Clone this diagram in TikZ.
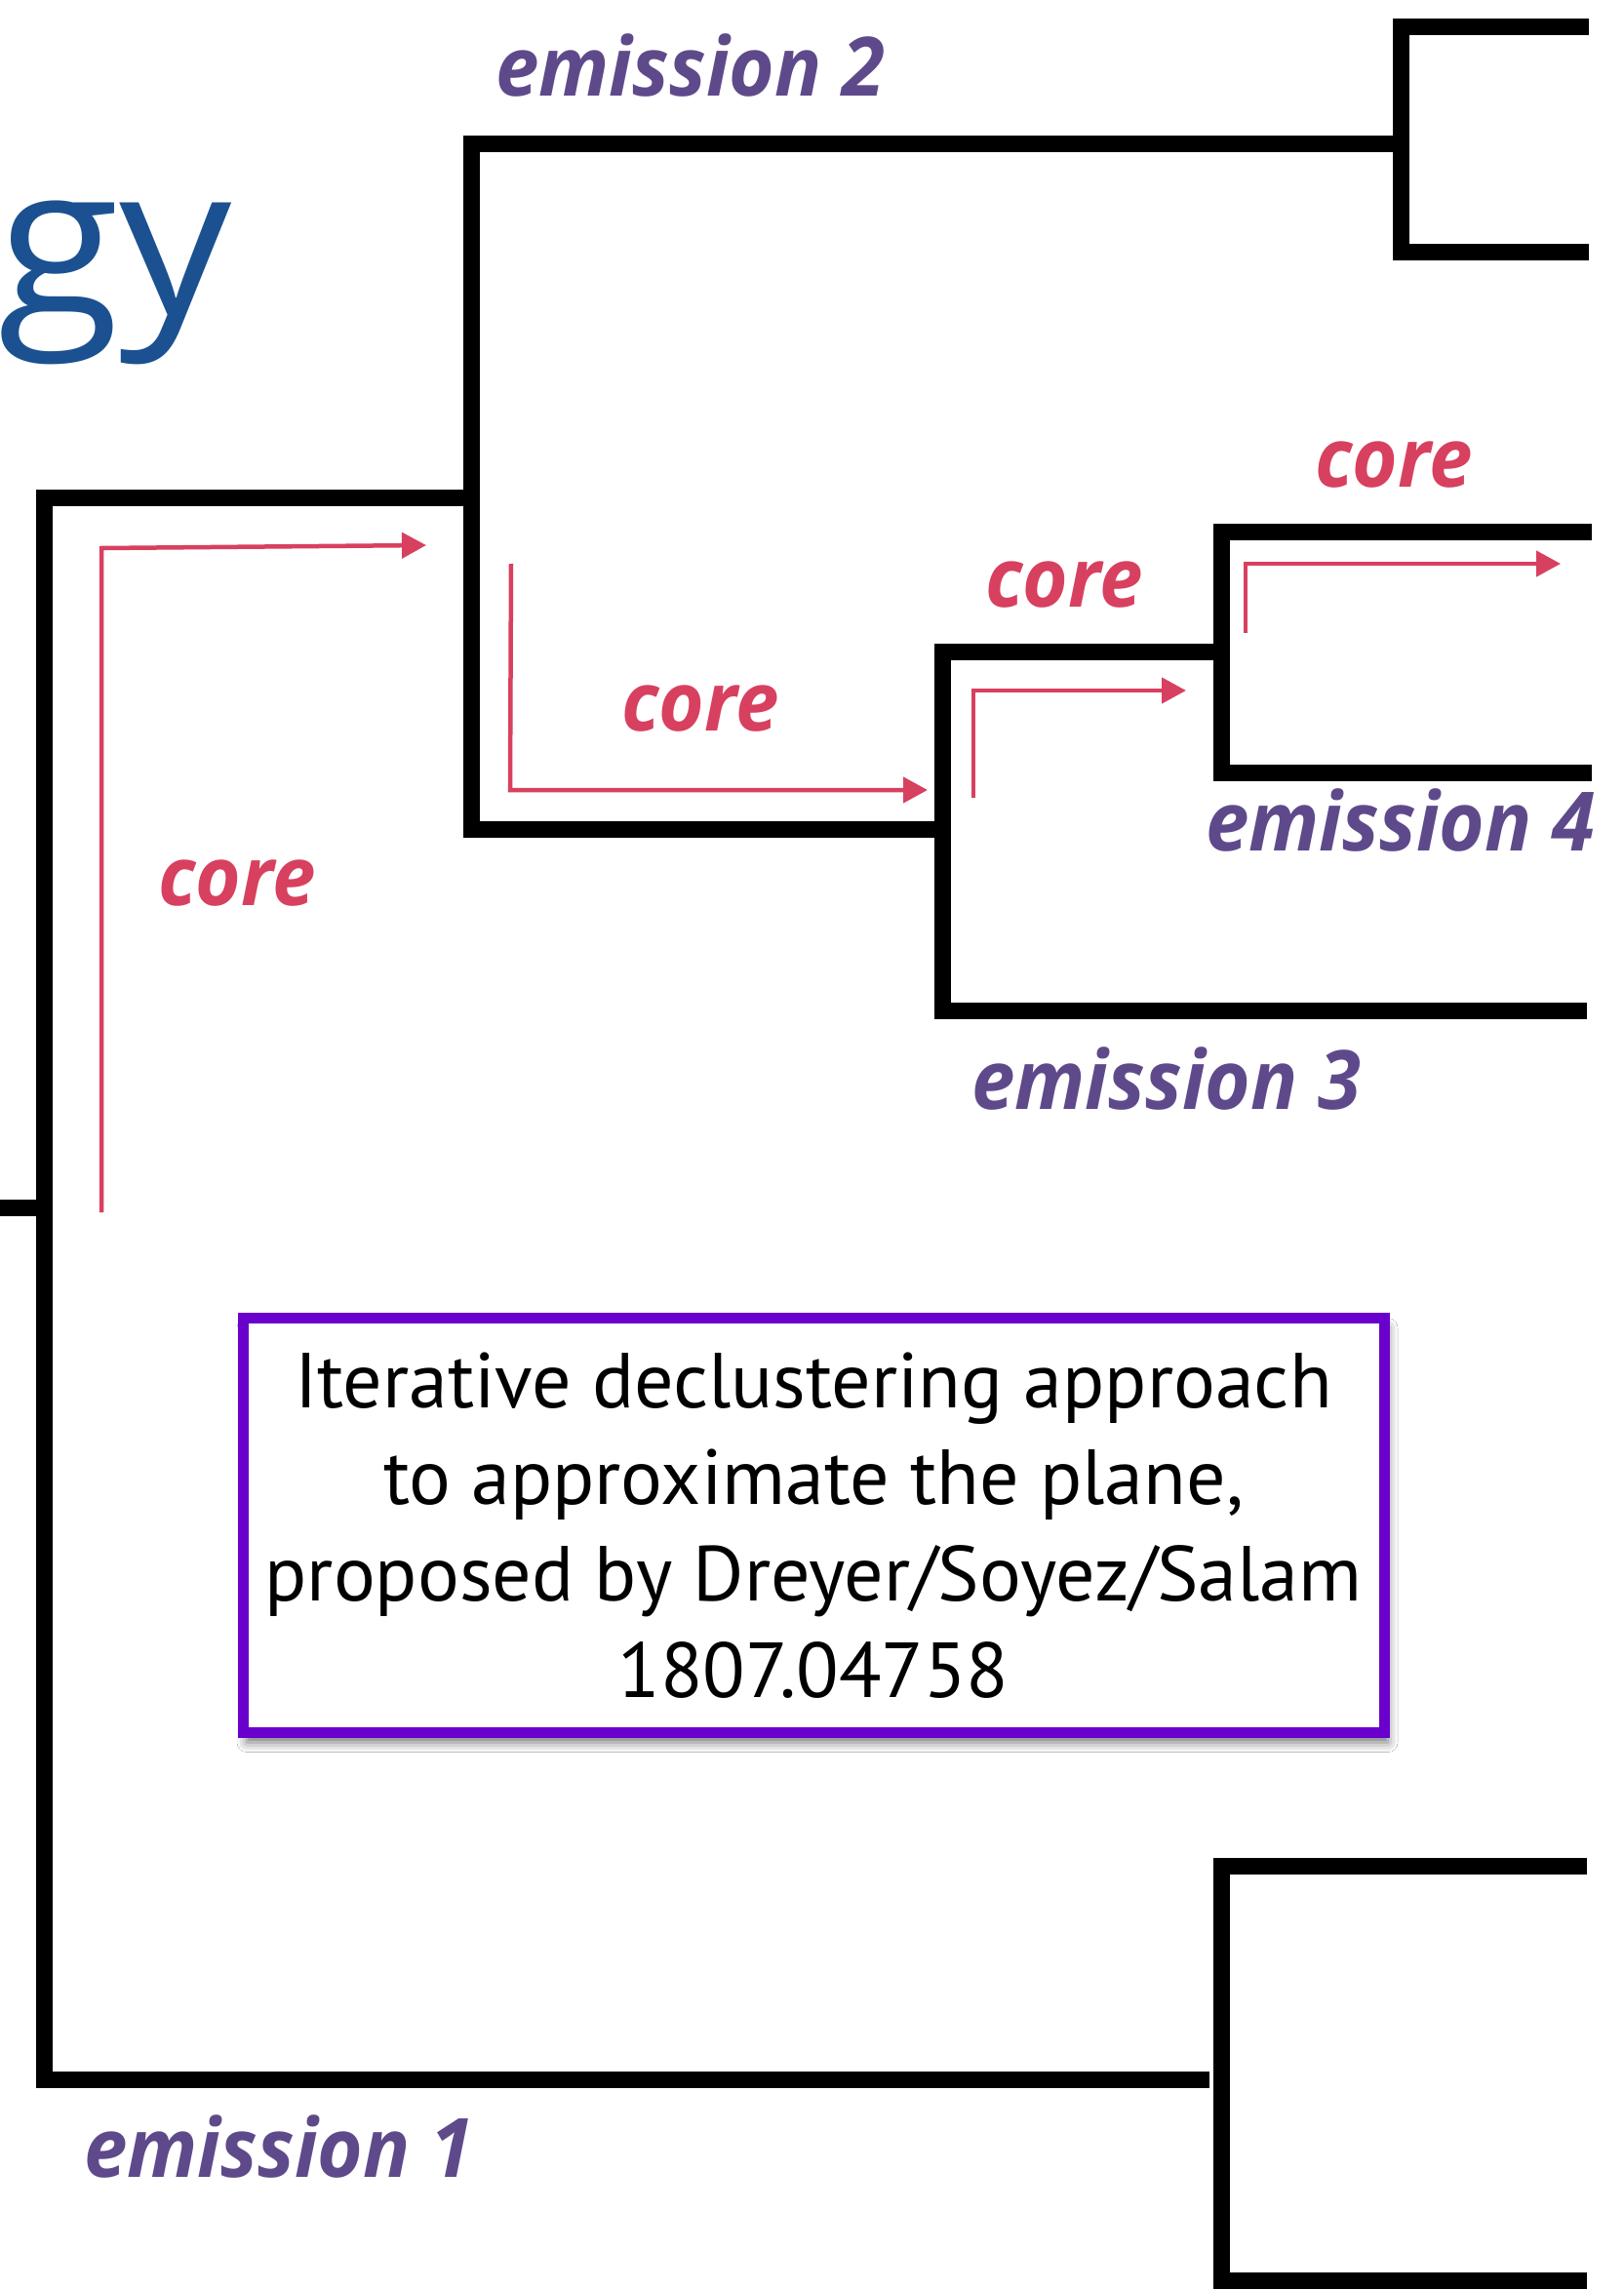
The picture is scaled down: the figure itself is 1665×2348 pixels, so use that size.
\documentclass[tikz,border=0pt]{standalone}
\usepackage{fontspec}
\newfontfamily\labfont{Open Sans}[FakeStretch=0.95]
\newfontfamily\titlefont{Open Sans}[FakeStretch=1.07]
\newfontfamily\boxfont{PT Sans}
\usetikzlibrary{arrows.meta,shadows.blur}
\definecolor{emcol}{HTML}{5E4A8B}
\definecolor{corecol}{HTML}{D8405F}
\definecolor{gycol}{HTML}{1B5190}
\definecolor{boxcol}{HTML}{6A00CC}
\begin{document}
\begin{tikzpicture}[x=1pt,y=-1pt,
  tree/.style={line width=17pt, line join=miter, line cap=butt, draw=black},
  flow/.style={line width=4.5pt, draw=corecol, line join=miter, -{Triangle[length=25pt,width=26pt]}},
  emlab/.style={anchor=base west, inner sep=0pt, text=emcol, font=\labfont\bfseries\itshape\fontsize{84}{100}\selectfont},
  corelab/.style={emlab, text=corecol},
]
\useasboundingbox[fill=white] (0,0) rectangle (1665,2348);

% title fragment
\node[anchor=base west, inner sep=0pt, text=gycol, font=\titlefont\fontsize{214}{240}\selectfont] (title) at (-3,322) {gy};

% tree coordinates
\coordinate (stub) at (0,1238);
\coordinate (rootstub) at (45,1238);
\coordinate (rtop) at (45,510);
\coordinate (rbot) at (45,2132);
\coordinate (bmid) at (483,510);
\coordinate (btop) at (483,147);
\coordinate (bbot) at (483,850);
\coordinate (cmid) at (1436,147);
\coordinate (ctop) at (1436,27);
\coordinate (cbot) at (1436,258);
\coordinate (ctopR) at (1629,27);
\coordinate (cbotR) at (1629,258);
\coordinate (dmid) at (966,850);
\coordinate (dtop) at (966,668);
\coordinate (dbot) at (966,1036);
\coordinate (dbotR) at (1627,1036);
\coordinate (emid) at (1252,668);
\coordinate (etop) at (1252,545);
\coordinate (ebot) at (1252,792);
\coordinate (etopR) at (1632,545);
\coordinate (ebotR) at (1632,792);
\coordinate (fend) at (1240,2132);
\coordinate (ftop) at (1252,1913);
\coordinate (fbot) at (1252,2338);
\coordinate (ftopR) at (1627,1913);
\coordinate (fbotR) at (1627,2338);

% tree
\draw[tree] (stub) -- (rootstub);
\draw[tree] (fend) -- (rbot) -- (rtop) -- (bmid);
\draw[tree] (cmid) -- (btop) -- (bbot) -- (dmid);
\draw[tree] (ctopR) -- (ctop) -- (cbot) -- (cbotR);
\draw[tree] (dbotR) -- (dbot) -- (dtop) -- (emid);
\draw[tree] (etopR) -- (etop) -- (ebot) -- (ebotR);
\draw[tree] (ftopR) -- (ftop) -- (fbot) -- (fbotR);

% core flow arrows
\coordinate (a1s) at (104,1243);
\coordinate (a1c) at (104,562);
\coordinate (a1e) at (437,559);
\draw[flow] (a1s) -- (a1c) -- (a1e);
\coordinate (a2s) at (524,578);
\coordinate (a2c) at (523,810);
\coordinate (a2e) at (951,810);
\draw[flow] (a2s) -- (a2c) -- (a2e);
\coordinate (a3s) at (998,818);
\coordinate (a3c) at (998,708);
\coordinate (a3e) at (1216,708);
\draw[flow] (a3s) -- (a3c) -- (a3e);
\coordinate (a4s) at (1277,649);
\coordinate (a4c) at (1277,578);
\coordinate (a4e) at (1600,578);
\draw[flow] (a4s) -- (a4c) -- (a4e);

% labels
\node[emlab] (em2) at (508,98) {emission 2};
\node[emlab] (em4) at (1236,872) {emission 4};
\node[emlab] (em3) at (996,1137) {emission 3};
\node[emlab] (em1) at (86,2232) {emission 1};
\node[corelab] (c4) at (1348,499) {core};
\node[corelab] (c3) at (1010,622) {core};
\node[corelab] (c2) at (637,749) {core};
\node[corelab] (c1) at (162,928) {core};

% box
\node[draw=boxcol, line width=11pt, fill=white, minimum width=1170pt, minimum height=425pt,
  inner sep=0pt, align=center, text=black,
  blur shadow={shadow xshift=4pt, shadow yshift=-10pt, shadow blur radius=10pt, shadow opacity=55},
  font=\boxfont\fontsize{80}{99}\selectfont] (note) at (834,1564)
  {Iterative declustering approach\\to approximate the plane,\\proposed by Dreyer/Soyez/Salam\\1807.04758};
\end{tikzpicture}
\end{document}
